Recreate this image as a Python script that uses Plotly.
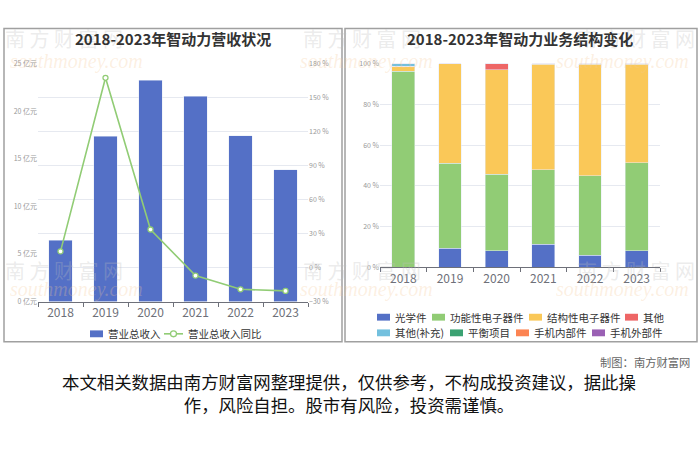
import plotly.graph_objects as go

W, H = 700, 467
FONT = "Noto Sans CJK SC"

years = ["2018", "2019", "2020", "2021", "2022", "2023"]
revenue = [6.45, 17.4, 23.25, 21.6, 17.45, 13.85]          # 亿元
revenue_yoy = [14.3, 167.6, 33.6, -7.1, -19.2, -20.6]      # %

seg_names = ["光学件", "功能性电子器件", "结构性电子器件", "其他",
             "其他(补充)", "平衡项目", "手机内部件", "手机外部件"]
seg_colors = ["#5470c6", "#91cc75", "#fac858", "#ee6666",
              "#73c0de", "#3ba272", "#fc8452", "#9a60b4"]
seg_optics = [0.0, 9.3, 8.0, 11.4, 5.8, 8.0]
seg_functional = [96.3, 41.7, 37.7, 36.4, 39.2, 43.3]
seg_structural = [2.4, 49.0, 51.4, 51.9, 54.8, 48.4]
seg_other = [0.0, 0.0, 2.9, 0.3, 0.2, 0.3]
seg_other_sup = [1.3, 0.0, 0.0, 0.0, 0.0, 0.0]
seg_balance = [0, 0, 0, 0, 0, 0]
seg_inner = [0, 0, 0, 0, 0, 0]
seg_outer = [0, 0, 0, 0, 0, 0]
seg_values = [seg_optics, seg_functional, seg_structural, seg_other,
              seg_other_sup, seg_balance, seg_inner, seg_outer]

left_title = "2018-2023年智动力营收状况"
right_title = "2018-2023年智动力业务结构变化"
credit = "制图：南方财富网"
disclaimer = "本文相关数据由南方财富网整理提供，仅供参考，不构成投资建议，据此操<br>作，风险自担。股市有风险，投资需谨慎。"


def px(x):
    return x / W


def py(y):
    return 1 - y / H


fig = go.Figure()

fig.add_trace(go.Bar(
    x=years, y=revenue, name="营业总收入", marker_color="#5470c6",
    width=0.52, xaxis="x", yaxis="y", showlegend=False))
fig.add_trace(go.Scatter(
    x=years, y=revenue_yoy, name="营业总收入同比", mode="lines+markers",
    line=dict(color="#91cc75", width=1.6),
    marker=dict(symbol="circle", size=5, color="white",
                line=dict(color="#91cc75", width=1.3)),
    xaxis="x", yaxis="y2", showlegend=False))

for n, c, v in zip(seg_names, seg_colors, seg_values):
    fig.add_trace(go.Bar(
        x=years, y=v, name=n, marker_color=c, width=0.49,
        xaxis="x3", yaxis="y3", showlegend=False))

axis_common = dict(showline=True, linecolor="#6e7079", linewidth=1,
                   tickfont=dict(family=FONT, size=12, color="#6e7079"),
                   ticks="outside", tickson="boundaries", ticklen=4,
                   tickcolor="#6e7079", fixedrange=True)

fig.update_layout(
    width=W, height=H, margin=dict(l=0, r=0, t=0, b=0),
    paper_bgcolor="white", plot_bgcolor="rgba(0,0,0,0)",
    barmode="stack", showlegend=False,
    font=dict(family=FONT),
    xaxis=dict(domain=[px(38), px(308)], anchor="y", **axis_common),
    yaxis=dict(domain=[py(302), py(59)], range=[0, 25], dtick=5,
               ticksuffix=" 亿元", showgrid=False, zeroline=False,
               tickfont=dict(family=FONT, size=7, color="#999"),
               anchor="x", fixedrange=True),
    yaxis2=dict(overlaying="y", side="right", range=[-30, 180], dtick=30,
                ticksuffix=" %", showgrid=True, gridcolor="#e6e9f0",
                zeroline=False,
                tickfont=dict(family=FONT, size=7, color="#999"),
                anchor="x", fixedrange=True),
    xaxis3=dict(domain=[px(380), px(660)], anchor="y3", **axis_common),
    yaxis3=dict(domain=[py(267), py(59)], range=[0, 100], dtick=20,
                ticksuffix=" %", showgrid=True, gridcolor="#e6e9f0",
                zeroline=False,
                tickfont=dict(family=FONT, size=7, color="#999"),
                anchor="x3", fixedrange=True),
)


def text(t, x, y, size, color, xanchor="center", family=FONT):
    fig.add_annotation(text=t, x=px(x), y=py(y), xref="paper", yref="paper",
                       xanchor=xanchor, yanchor="middle", showarrow=False,
                       align="center",
                       font=dict(family=family, size=size, color=color))


# panel borders
for x0, x1 in [(4, 342), (345, 697)]:
    fig.add_shape(type="rect", xref="paper", yref="paper",
                  x0=px(x0), x1=px(x1), y0=py(343), y1=py(23),
                  line=dict(color="#a0a0a0", width=1.5), layer="below")

# watermarks
for wx, sx in [(64, 76), (362, 367), (636, 622)]:
    for wy in [33, 270]:
        text("南 方 财 富 网", wx, wy, 20, "rgba(190,190,190,0.30)")
    for wy in [57, 290]:
        text("<i>southmoney.com</i>", sx, wy, 20, "rgba(245,200,150,0.28)",
             family="Liberation Serif")

# titles
text("<b>" + left_title + "</b>", 173, 33, 15, "#333")
text("<b>" + right_title + "</b>", 520, 33, 15, "#333")

# legends (drawn manually to match compact layout)
LEG = 10.5


def legend_box(x, y, color):
    fig.add_shape(type="rect", xref="paper", yref="paper",
                  x0=px(x), x1=px(x + 13), y0=py(y + 3.5), y1=py(y - 3.5),
                  fillcolor=color, line=dict(width=0))


legend_box(90, 335, "#5470c6")
text("营业总收入", 106, 335, LEG, "#333", xanchor="left")
fig.add_shape(type="line", xref="paper", yref="paper",
              x0=px(164), x1=px(183), y0=py(335), y1=py(335),
              line=dict(color="#91cc75", width=1.6))
fig.add_shape(type="circle", xref="paper", yref="paper",
              x0=px(170.5), x1=px(176.5), y0=py(338), y1=py(332),
              fillcolor="white", line=dict(color="#91cc75", width=1.3))
text("营业总收入同比", 186, 335, LEG, "#333", xanchor="left")

leg_pos = [(377, 318), (432, 318), (529, 318), (625, 318),
           (377, 334), (450, 334), (516, 334), (592, 334)]
for (lx, ly), n, c in zip(leg_pos, seg_names, seg_colors):
    legend_box(lx, ly, c)
    text(n, lx + 16, ly, LEG, "#333", xanchor="left")

text(credit, 692, 364, 11.3, "#666", xanchor="right")
text(disclaimer, 349, 395, 17.4, "#111")

fig.write_html("out.html", config={"displayModeBar": False},
               post_script="document.body.style.margin='0';")
